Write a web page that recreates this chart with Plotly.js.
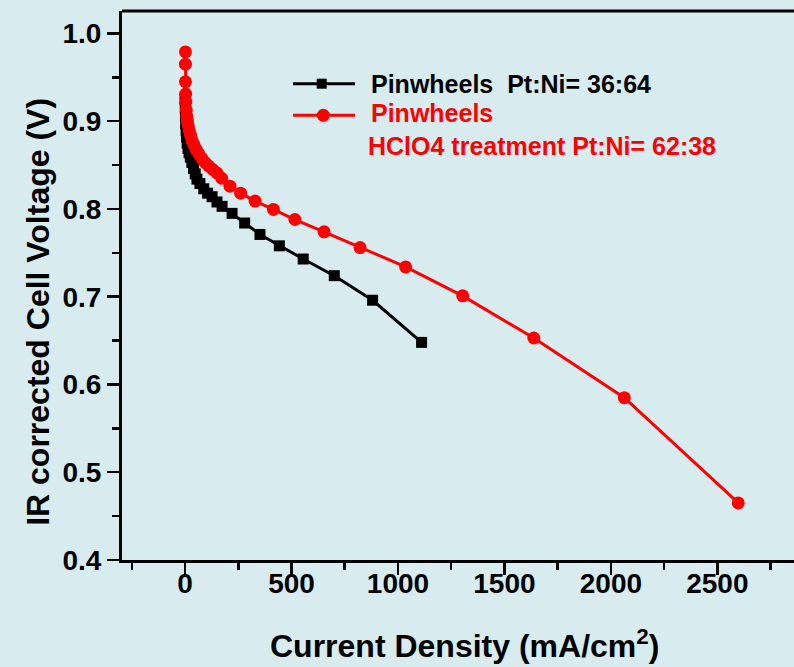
<!DOCTYPE html>
<html>
<head>
<meta charset="utf-8">
<script src="https://cdn.plot.ly/plotly-3.0.1.min.js"></script>
<style>
  html, body { margin: 0; padding: 0; background: #d8ecef; }
  #chart { width: 794px; height: 667px; }
</style>
</head>
<body>
<div id="chart"></div>
<script>
// Polarization curves: IR-corrected cell voltage vs. current density
const currentPinwheels = [0, 1, 2, 3, 5, 7, 10, 14, 19, 25, 32, 40, 48, 56, 70, 88, 106, 127, 150, 174, 221, 280, 352, 443, 555, 701, 881, 1111];
const voltagePinwheels = [0.925, 0.915, 0.905, 0.897, 0.889, 0.882, 0.875, 0.869, 0.864, 0.859, 0.853, 0.846, 0.840, 0.834, 0.829, 0.823, 0.818, 0.814, 0.808, 0.803, 0.795, 0.784, 0.771, 0.758, 0.743, 0.724, 0.696, 0.648];

const currentTreated = [2, 2, 2, 3, 4, 6, 8, 11, 15, 20, 26, 33, 42, 52, 64, 78, 94, 111, 130, 150, 172, 211, 261, 329, 415, 516, 653, 822, 1036, 1304, 1638, 2063, 2598];
const voltageTreated = [0.979, 0.965, 0.945, 0.931, 0.922, 0.913, 0.906, 0.900, 0.895, 0.889, 0.884, 0.878, 0.873, 0.868, 0.863, 0.858, 0.853, 0.849, 0.845, 0.841, 0.835, 0.826, 0.818, 0.809, 0.7995, 0.788, 0.774, 0.756, 0.734, 0.701, 0.653, 0.585, 0.465];

const seriesNames = ['Pinwheels  Pt:Ni= 36:64', 'Pinwheels', 'HClO4 treatment Pt:Ni= 62:38'];
const xTitle = 'Current Density (mA/cm<sup>2</sup>)';
const yTitle = 'IR corrected Cell Voltage (V)';

const BG = '#d8ecef';
const FONT = 'Liberation Sans, Arial, Helvetica, sans-serif';

const traces = [
  {
    x: currentPinwheels, y: voltagePinwheels, type: 'scatter', mode: 'lines+markers',
    line: { color: '#000000', width: 3 },
    marker: { symbol: 'square', size: 11, color: '#000000' },
    showlegend: false
  },
  {
    x: currentTreated, y: voltageTreated, type: 'scatter', mode: 'lines+markers',
    line: { color: '#ff0000', width: 3 },
    marker: { symbol: 'circle', size: 13, color: '#ff0000' },
    showlegend: false
  }
];

// legend drawn by hand in paper coordinates
const legendShapes = [
  { type: 'line', xref: 'paper', yref: 'paper', x0: 0.2545, x1: 0.3467, y0: 0.8676, y1: 0.8676, line: { color: '#000000', width: 3 } },
  { type: 'rect', xref: 'paper', yref: 'paper', xsizemode: 'pixel', ysizemode: 'pixel', xanchor: 0.2972, yanchor: 0.8676,
    x0: -5, x1: 5, y0: -5, y1: 5, fillcolor: '#000000', line: { width: 0 } },
  { type: 'line', xref: 'paper', yref: 'paper', x0: 0.2545, x1: 0.3467, y0: 0.81, y1: 0.81, line: { color: '#ff0000', width: 3 } },
  { type: 'circle', xref: 'paper', yref: 'paper', xsizemode: 'pixel', ysizemode: 'pixel', xanchor: 0.2996, yanchor: 0.81,
    x0: -6.5, x1: 6.5, y0: -6.5, y1: 6.5, fillcolor: '#ff0000', line: { width: 0 } },
  // top frame line
  { type: 'line', xref: 'paper', yref: 'paper', x0: 0, x1: 1, y0: 1, y1: 1, line: { color: '#000000', width: 3 } }
];

const legendText = [
  { text: seriesNames[0], x: 0.3676, y: 0.867, color: '#000000' },
  { text: seriesNames[1], x: 0.3676, y: 0.8136, color: '#ff0000' },
  { text: seriesNames[2], x: 0.363, y: 0.7536, color: '#ff0000' }
].map(t => ({
  xref: 'paper', yref: 'paper', x: t.x, y: t.y, xanchor: 'left', yanchor: 'middle',
  text: t.text, showarrow: false,
  font: { family: FONT, size: 25, weight: 'bold', color: t.color }
}));

const titleAnnotations = [
  { xref: 'paper', yref: 'paper', x: 0.51, y: -0.153, xanchor: 'center', yanchor: 'middle',
    text: xTitle, showarrow: false, font: { family: FONT, size: 32, weight: 'bold', color: '#000000' } },
  { xref: 'paper', yref: 'paper', x: -0.125, y: 0.452, xanchor: 'center', yanchor: 'middle', textangle: -90,
    text: yTitle, showarrow: false, font: { family: FONT, size: 32, weight: 'bold', color: '#000000' } }
];

const layout = {
  width: 794, height: 667,
  margin: { l: 122, r: 0, t: 10.5, b: 106.5 },
  paper_bgcolor: BG, plot_bgcolor: BG,
  showlegend: false,
  xaxis: {
    range: [-296, 2860], tick0: 0, dtick: 500,
    showgrid: false, zeroline: false,
    showline: true, linecolor: '#000000', linewidth: 3,
    ticks: 'outside', ticklen: 12, tickwidth: 2.5, tickcolor: '#000000',
    ticklabelstandoff: -16,
    tickfont: { family: FONT, size: 28, weight: 'bold', color: '#000000' },
    minor: { dtick: 250, tick0: 0, ticks: 'outside', ticklen: 7, tickwidth: 2.5, tickcolor: '#000000', showgrid: false }
  },
  yaxis: {
    range: [0.4, 1.0256], tick0: 0.4, dtick: 0.1, tickformat: '.1f',
    showgrid: false, zeroline: false,
    showline: true, linecolor: '#000000', linewidth: 3,
    ticks: 'outside', ticklen: 12, tickwidth: 2.5, tickcolor: '#000000',
    tickfont: { family: FONT, size: 28, weight: 'bold', color: '#000000' },
    minor: { dtick: 0.05, tick0: 0.4, ticks: 'outside', ticklen: 7, tickwidth: 2.5, tickcolor: '#000000', showgrid: false }
  },
  shapes: legendShapes,
  annotations: legendText.concat(titleAnnotations)
};

Plotly.newPlot('chart', traces, layout, { displayModeBar: false, staticPlot: true });
</script>
</body>
</html>
